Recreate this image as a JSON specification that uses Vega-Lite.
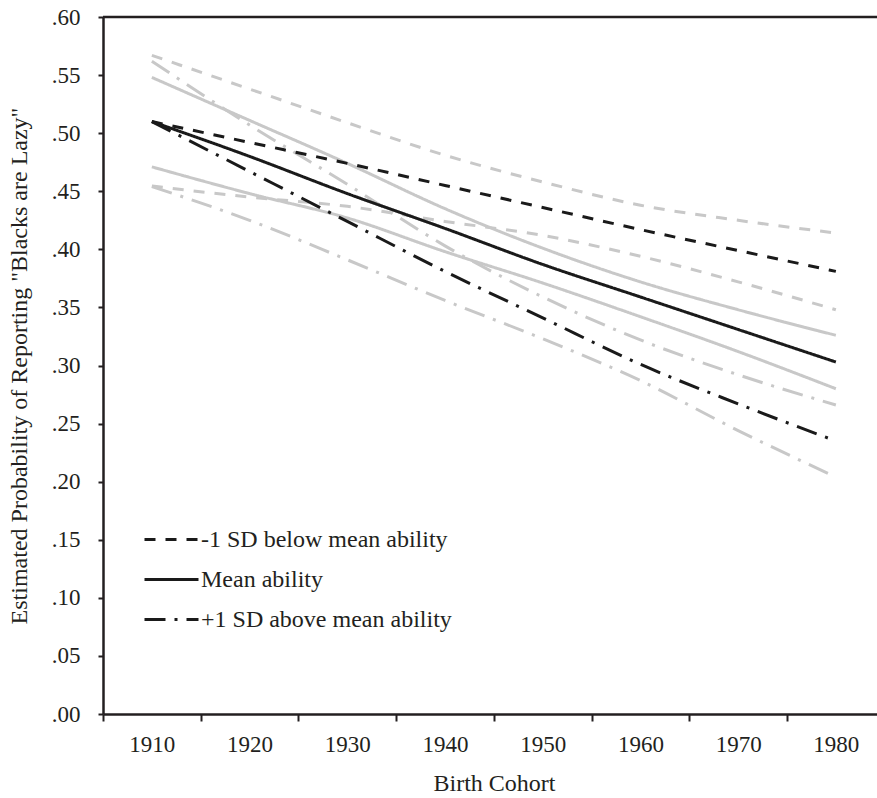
{
  "$schema": "https://vega.github.io/schema/vega-lite/v6.json",
  "width": 774,
  "height": 697,
  "autosize": {"type": "none"},
  "padding": {"left": 103, "top": 17, "right": 0, "bottom": 84},
  "background": "white",
  "config": {
    "view": {"stroke": null},
    "font": "Liberation Serif",
    "axis": {
      "labelFont": "Liberation Serif",
      "labelFontSize": 23,
      "labelColor": "#231f20",
      "titleFont": "Liberation Serif",
      "titleFontSize": 24,
      "titleFontWeight": "normal",
      "titleColor": "#231f20",
      "domainColor": "#231f20",
      "domainWidth": 2.5,
      "tickColor": "#231f20",
      "tickWidth": 2,
      "grid": false
    }
  },
  "data": {"values": [
    {"series":"est_below","kind":"est","ability":"-1 SD below mean ability","year":1910,"p":0.510},
    {"series":"est_below","kind":"est","ability":"-1 SD below mean ability","year":1920,"p":0.492},
    {"series":"est_below","kind":"est","ability":"-1 SD below mean ability","year":1930,"p":0.474},
    {"series":"est_below","kind":"est","ability":"-1 SD below mean ability","year":1940,"p":0.455},
    {"series":"est_below","kind":"est","ability":"-1 SD below mean ability","year":1950,"p":0.436},
    {"series":"est_below","kind":"est","ability":"-1 SD below mean ability","year":1960,"p":0.417},
    {"series":"est_below","kind":"est","ability":"-1 SD below mean ability","year":1970,"p":0.399},
    {"series":"est_below","kind":"est","ability":"-1 SD below mean ability","year":1980,"p":0.381},
    {"series":"est_mean","kind":"est","ability":"Mean ability","year":1910,"p":0.510},
    {"series":"est_mean","kind":"est","ability":"Mean ability","year":1920,"p":0.480},
    {"series":"est_mean","kind":"est","ability":"Mean ability","year":1930,"p":0.448},
    {"series":"est_mean","kind":"est","ability":"Mean ability","year":1940,"p":0.418},
    {"series":"est_mean","kind":"est","ability":"Mean ability","year":1950,"p":0.387},
    {"series":"est_mean","kind":"est","ability":"Mean ability","year":1960,"p":0.359},
    {"series":"est_mean","kind":"est","ability":"Mean ability","year":1970,"p":0.331},
    {"series":"est_mean","kind":"est","ability":"Mean ability","year":1980,"p":0.303},
    {"series":"est_above","kind":"est","ability":"+1 SD above mean ability","year":1910,"p":0.510},
    {"series":"est_above","kind":"est","ability":"+1 SD above mean ability","year":1920,"p":0.467},
    {"series":"est_above","kind":"est","ability":"+1 SD above mean ability","year":1930,"p":0.424},
    {"series":"est_above","kind":"est","ability":"+1 SD above mean ability","year":1940,"p":0.381},
    {"series":"est_above","kind":"est","ability":"+1 SD above mean ability","year":1950,"p":0.341},
    {"series":"est_above","kind":"est","ability":"+1 SD above mean ability","year":1960,"p":0.301},
    {"series":"est_above","kind":"est","ability":"+1 SD above mean ability","year":1970,"p":0.267},
    {"series":"est_above","kind":"est","ability":"+1 SD above mean ability","year":1980,"p":0.235},
    {"series":"ci_below_hi","kind":"ci","ability":"-1 SD below mean ability","year":1910,"p":0.567},
    {"series":"ci_below_hi","kind":"ci","ability":"-1 SD below mean ability","year":1920,"p":0.538},
    {"series":"ci_below_hi","kind":"ci","ability":"-1 SD below mean ability","year":1930,"p":0.509},
    {"series":"ci_below_hi","kind":"ci","ability":"-1 SD below mean ability","year":1940,"p":0.481},
    {"series":"ci_below_hi","kind":"ci","ability":"-1 SD below mean ability","year":1950,"p":0.458},
    {"series":"ci_below_hi","kind":"ci","ability":"-1 SD below mean ability","year":1960,"p":0.438},
    {"series":"ci_below_hi","kind":"ci","ability":"-1 SD below mean ability","year":1970,"p":0.425},
    {"series":"ci_below_hi","kind":"ci","ability":"-1 SD below mean ability","year":1980,"p":0.414},
    {"series":"ci_below_lo","kind":"ci","ability":"-1 SD below mean ability","year":1910,"p":0.4545},
    {"series":"ci_below_lo","kind":"ci","ability":"-1 SD below mean ability","year":1920,"p":0.445},
    {"series":"ci_below_lo","kind":"ci","ability":"-1 SD below mean ability","year":1930,"p":0.437},
    {"series":"ci_below_lo","kind":"ci","ability":"-1 SD below mean ability","year":1940,"p":0.424},
    {"series":"ci_below_lo","kind":"ci","ability":"-1 SD below mean ability","year":1950,"p":0.412},
    {"series":"ci_below_lo","kind":"ci","ability":"-1 SD below mean ability","year":1960,"p":0.394},
    {"series":"ci_below_lo","kind":"ci","ability":"-1 SD below mean ability","year":1970,"p":0.372},
    {"series":"ci_below_lo","kind":"ci","ability":"-1 SD below mean ability","year":1980,"p":0.348},
    {"series":"ci_mean_hi","kind":"ci","ability":"Mean ability","year":1910,"p":0.548},
    {"series":"ci_mean_hi","kind":"ci","ability":"Mean ability","year":1920,"p":0.511},
    {"series":"ci_mean_hi","kind":"ci","ability":"Mean ability","year":1930,"p":0.474},
    {"series":"ci_mean_hi","kind":"ci","ability":"Mean ability","year":1940,"p":0.435},
    {"series":"ci_mean_hi","kind":"ci","ability":"Mean ability","year":1950,"p":0.401},
    {"series":"ci_mean_hi","kind":"ci","ability":"Mean ability","year":1960,"p":0.372},
    {"series":"ci_mean_hi","kind":"ci","ability":"Mean ability","year":1970,"p":0.348},
    {"series":"ci_mean_hi","kind":"ci","ability":"Mean ability","year":1980,"p":0.326},
    {"series":"ci_mean_lo","kind":"ci","ability":"Mean ability","year":1910,"p":0.471},
    {"series":"ci_mean_lo","kind":"ci","ability":"Mean ability","year":1920,"p":0.448},
    {"series":"ci_mean_lo","kind":"ci","ability":"Mean ability","year":1930,"p":0.427},
    {"series":"ci_mean_lo","kind":"ci","ability":"Mean ability","year":1940,"p":0.398},
    {"series":"ci_mean_lo","kind":"ci","ability":"Mean ability","year":1950,"p":0.371},
    {"series":"ci_mean_lo","kind":"ci","ability":"Mean ability","year":1960,"p":0.342},
    {"series":"ci_mean_lo","kind":"ci","ability":"Mean ability","year":1970,"p":0.312},
    {"series":"ci_mean_lo","kind":"ci","ability":"Mean ability","year":1980,"p":0.280},
    {"series":"ci_above_hi","kind":"ci","ability":"+1 SD above mean ability","year":1910,"p":0.562},
    {"series":"ci_above_hi","kind":"ci","ability":"+1 SD above mean ability","year":1920,"p":0.507},
    {"series":"ci_above_hi","kind":"ci","ability":"+1 SD above mean ability","year":1930,"p":0.456},
    {"series":"ci_above_hi","kind":"ci","ability":"+1 SD above mean ability","year":1940,"p":0.403},
    {"series":"ci_above_hi","kind":"ci","ability":"+1 SD above mean ability","year":1950,"p":0.359},
    {"series":"ci_above_hi","kind":"ci","ability":"+1 SD above mean ability","year":1960,"p":0.322},
    {"series":"ci_above_hi","kind":"ci","ability":"+1 SD above mean ability","year":1970,"p":0.292},
    {"series":"ci_above_hi","kind":"ci","ability":"+1 SD above mean ability","year":1980,"p":0.266},
    {"series":"ci_above_lo","kind":"ci","ability":"+1 SD above mean ability","year":1910,"p":0.454},
    {"series":"ci_above_lo","kind":"ci","ability":"+1 SD above mean ability","year":1920,"p":0.425},
    {"series":"ci_above_lo","kind":"ci","ability":"+1 SD above mean ability","year":1930,"p":0.391},
    {"series":"ci_above_lo","kind":"ci","ability":"+1 SD above mean ability","year":1940,"p":0.356},
    {"series":"ci_above_lo","kind":"ci","ability":"+1 SD above mean ability","year":1950,"p":0.323},
    {"series":"ci_above_lo","kind":"ci","ability":"+1 SD above mean ability","year":1960,"p":0.287},
    {"series":"ci_above_lo","kind":"ci","ability":"+1 SD above mean ability","year":1970,"p":0.244},
    {"series":"ci_above_lo","kind":"ci","ability":"+1 SD above mean ability","year":1980,"p":0.204}
  ]},
  "encoding": {
    "x": {
      "field": "year",
      "type": "quantitative",
      "scale": {"domain": [1905, 1984.21], "nice": false, "zero": false},
      "axis": {
        "title": "Birth Cohort",
        "values": [1905, 1915, 1925, 1935, 1945, 1955, 1965, 1975],
        "labelExpr": "'' + (datum.value + 5)",
        "labelOffset": 48.86,
        "labelOverlap": false,
        "labelBound": false,
        "labelFlush": false,
        "tickSize": 7,
        "labelPadding": 12,
        "titlePadding": 15,
        "titleX": 391
      }
    },
    "y": {
      "field": "p",
      "type": "quantitative",
      "scale": {"domain": [0, 0.6], "nice": false, "zero": true},
      "axis": {
        "title": "Estimated Probability of Reporting \"Blacks are Lazy\"",
        "values": [0, 0.05, 0.1, 0.15, 0.2, 0.25, 0.3, 0.35, 0.4, 0.45, 0.5, 0.55, 0.6],
        "labelExpr": "replace(format(datum.value, '.2f'), '0.', '.')",
        "tickSize": 5,
        "labelPadding": 18,
        "titlePadding": 20,
        "labelOverlap": false
      }
    },
    "detail": {"field": "series"},
    "strokeDash": {
      "field": "ability",
      "type": "nominal",
      "scale": {
        "domain": ["-1 SD below mean ability", "Mean ability", "+1 SD above mean ability"],
        "range": [[11, 10], [1, 0], [21, 9, 3, 9]]
      },
      "legend": {
        "orient": "none",
        "legendX": 52,
        "legendY": 506,
        "title": null,
        "padding": 0,
        "symbolType": "M-1.8,0H1.8",
        "symbolSize": 900,
        "symbolStrokeWidth": 3,
        "symbolStrokeColor": "#1a1a1a",
        "labelFont": "Liberation Serif",
        "labelFontSize": 24,
        "labelColor": "#231f20",
        "labelOffset": 13,
        "rowPadding": 11,
        "labelLimit": 400
      }
    }
  },
  "layer": [
    {
      "data": {"values": [{"top": 0.6}]},
      "mark": {"type": "rule", "color": "#231f20", "strokeWidth": 2.5},
      "encoding": {
        "y": {"field": "top", "type": "quantitative"},
        "x": null,
        "detail": null,
        "strokeDash": null
      }
    },
    {
      "transform": [{"filter": "datum.kind === 'ci'"}],
      "mark": {"type": "line", "color": "#c8c8c8", "strokeWidth": 3, "interpolate": "monotone"}
    },
    {
      "transform": [{"filter": "datum.kind === 'est'"}],
      "mark": {"type": "line", "color": "#1a1a1a", "strokeWidth": 3, "interpolate": "monotone"}
    }
  ]
}
